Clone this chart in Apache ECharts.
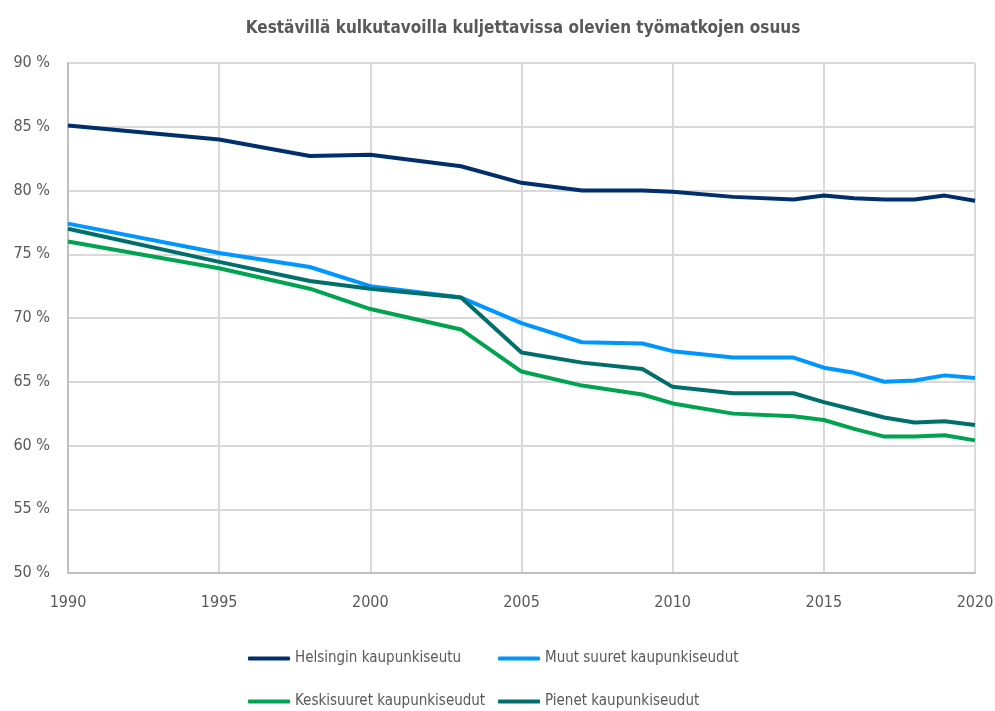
<!DOCTYPE html>
<html>
<head>
<meta charset="utf-8">
<script src="https://cdn.jsdelivr.net/npm/echarts@6/dist/echarts.min.js"></script>
<style>
  html, body { margin: 0; padding: 0; background: #fff; }
  #main { width: 995px; height: 711px; }
</style>
</head>
<body>
<div id="main"></div>
<script>
// vuodet ja sarjat
const years = [1990, 1995, 1998, 2000, 2003, 2005, 2007, 2009, 2010, 2012, 2014, 2015, 2016, 2017, 2018, 2019, 2020];
const helsinki = [85.1, 84.0, 82.7, 82.8, 81.9, 80.6, 80.0, 80.0, 79.9, 79.5, 79.3, 79.6, 79.4, 79.3, 79.3, 79.6, 79.2];
const muutSuuret = [77.4, 75.1, 74.0, 72.5, 71.6, 69.6, 68.1, 68.0, 67.4, 66.9, 66.9, 66.1, 65.7, 65.0, 65.1, 65.5, 65.3];
const keskisuuret = [76.0, 73.9, 72.3, 70.7, 69.1, 65.8, 64.7, 64.0, 63.3, 62.5, 62.3, 62.0, 61.3, 60.7, 60.7, 60.8, 60.4];
const pienet = [77.0, 74.4, 72.9, 72.3, 71.6, 67.3, 66.5, 66.0, 64.6, 64.1, 64.1, 63.4, 62.8, 62.2, 61.8, 61.9, 61.6];
const seriesNames = ['Helsingin kaupunkiseutu', 'Muut suuret kaupunkiseudut', 'Keskisuuret kaupunkiseudut', 'Pienet kaupunkiseudut'];
const colors = ['#002F6C', '#0096FF', '#00A350', '#006F6B'];

const font = '"DejaVu Sans Condensed", sans-serif';
const txt = '#595959';

function pairs(vals) {
  return years.map((y, i) => [y, vals[i]]);
}

const allVals = [helsinki, muutSuuret, keskisuuret, pienet];

// legendit omille paikoilleen
const legendPos = [[243, 646], [493, 646], [243, 689], [493, 689]];

let option = {
  animation: false,
  color: colors,
  title: {
    text: 'Kestävillä kulkutavoilla kuljettavissa olevien työmatkojen osuus',
    left: 518,
    top: 15,
    textAlign: 'center',
    textStyle: { fontFamily: font, fontSize: 17, fontWeight: 'bold', color: txt }
  },
  legend: seriesNames.map((n, i) => ({
    data: [n],
    left: legendPos[i][0],
    top: legendPos[i][1],
    itemWidth: 42,
    itemHeight: 4,
    itemGap: 10,
    icon: 'roundRect',
    textStyle: { fontFamily: font, fontSize: 15, color: txt }
  })),
  grid: { left: 68, right: 20, top: 63, bottom: 138, outerBoundsMode: 'none' },
  xAxis: {
    type: 'value',
    min: 1990,
    max: 2020,
    interval: 5,
    axisLine: { show: true, lineStyle: { color: '#bfbfbf', width: 2 } },
    axisTick: { show: false },
    splitLine: { show: true, lineStyle: { color: '#d9d9d9', width: 2 } },
    axisLabel: { fontFamily: font, fontSize: 16, color: txt, margin: 22, formatter: v => String(v) }
  },
  yAxis: {
    type: 'value',
    min: 50,
    max: 90,
    interval: 5,
    axisLine: { show: true, lineStyle: { color: '#bfbfbf', width: 2 } },
    axisTick: { show: false },
    splitLine: { show: true, lineStyle: { color: '#d9d9d9', width: 2 } },
    axisLabel: { fontFamily: font, fontSize: 16, color: txt, margin: 18, formatter: '{value} %' }
  },
  series: seriesNames.map((n, i) => ({
    name: n,
    type: 'line',
    data: pairs(allVals[i]),
    symbol: 'none',
    lineStyle: { width: 4, color: colors[i] },
    itemStyle: { color: colors[i] }
  }))
};

const chart = echarts.init(document.getElementById('main'));
chart.setOption(option);
</script>
</body>
</html>
